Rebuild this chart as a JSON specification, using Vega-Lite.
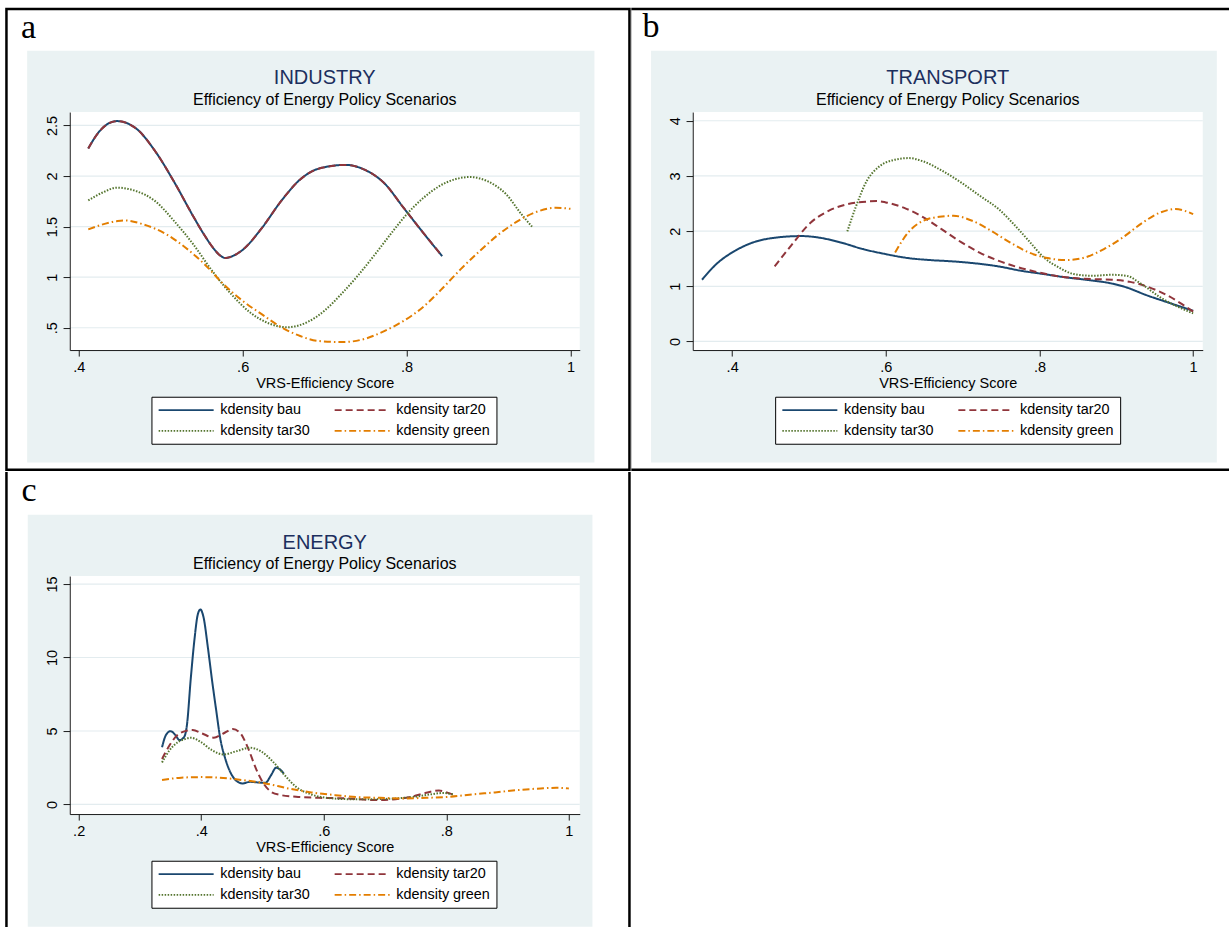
{
  "$schema": "https://vega.github.io/schema/vega-lite/v6.json",
  "background": "white",
  "padding": {"left": 4.75, "top": 7.05, "right": 0, "bottom": 0},
  "columns": 2,
  "spacing": 0,
  "align": "each",
  "bounds": "full",
  "datasets": {
    "industry": [
      {"series":"kdensity bau","x":0.4116,"y":2.273},{"series":"kdensity bau","x":0.425,"y":2.44},{"series":"kdensity bau","x":0.4466,"y":2.543},{"series":"kdensity bau","x":0.47,"y":2.47},{"series":"kdensity bau","x":0.4932,"y":2.246},{"series":"kdensity bau","x":0.5165,"y":1.94},{"series":"kdensity bau","x":0.5398,"y":1.6},{"series":"kdensity bau","x":0.553,"y":1.42},{"series":"kdensity bau","x":0.563,"y":1.3},{"series":"kdensity bau","x":0.571,"y":1.225},{"series":"kdensity bau","x":0.579,"y":1.19},{"series":"kdensity bau","x":0.588,"y":1.21},{"series":"kdensity bau","x":0.6,"y":1.27},{"series":"kdensity bau","x":0.6236,"y":1.488},{"series":"kdensity bau","x":0.6469,"y":1.752},{"series":"kdensity bau","x":0.6702,"y":1.966},{"series":"kdensity bau","x":0.6935,"y":2.075},{"series":"kdensity bau","x":0.726,"y":2.11},{"series":"kdensity bau","x":0.7494,"y":2.06},{"series":"kdensity bau","x":0.7727,"y":1.93},{"series":"kdensity bau","x":0.796,"y":1.69},{"series":"kdensity bau","x":0.8192,"y":1.45},{"series":"kdensity bau","x":0.8435,"y":1.208},
      {"series":"kdensity tar20","x":0.4116,"y":2.273},{"series":"kdensity tar20","x":0.425,"y":2.44},{"series":"kdensity tar20","x":0.4466,"y":2.543},{"series":"kdensity tar20","x":0.47,"y":2.47},{"series":"kdensity tar20","x":0.4932,"y":2.246},{"series":"kdensity tar20","x":0.5165,"y":1.94},{"series":"kdensity tar20","x":0.5398,"y":1.6},{"series":"kdensity tar20","x":0.553,"y":1.42},{"series":"kdensity tar20","x":0.563,"y":1.3},{"series":"kdensity tar20","x":0.571,"y":1.225},{"series":"kdensity tar20","x":0.579,"y":1.19},{"series":"kdensity tar20","x":0.588,"y":1.21},{"series":"kdensity tar20","x":0.6,"y":1.27},{"series":"kdensity tar20","x":0.6236,"y":1.488},{"series":"kdensity tar20","x":0.6469,"y":1.752},{"series":"kdensity tar20","x":0.6702,"y":1.966},{"series":"kdensity tar20","x":0.6935,"y":2.075},{"series":"kdensity tar20","x":0.726,"y":2.11},{"series":"kdensity tar20","x":0.7494,"y":2.06},{"series":"kdensity tar20","x":0.7727,"y":1.93},{"series":"kdensity tar20","x":0.796,"y":1.69},{"series":"kdensity tar20","x":0.8192,"y":1.45},{"series":"kdensity tar20","x":0.8435,"y":1.208},
      {"series":"kdensity tar30","x":0.4116,"y":1.759},{"series":"kdensity tar30","x":0.43,"y":1.84},{"series":"kdensity tar30","x":0.4466,"y":1.885},{"series":"kdensity tar30","x":0.47,"y":1.851},{"series":"kdensity tar30","x":0.4932,"y":1.752},{"series":"kdensity tar30","x":0.5165,"y":1.554},{"series":"kdensity tar30","x":0.5398,"y":1.324},{"series":"kdensity tar30","x":0.563,"y":1.06},{"series":"kdensity tar30","x":0.5863,"y":0.83},{"series":"kdensity tar30","x":0.6096,"y":0.648},{"series":"kdensity tar30","x":0.6329,"y":0.54},{"series":"kdensity tar30","x":0.654,"y":0.505},{"series":"kdensity tar30","x":0.68,"y":0.56},{"series":"kdensity tar30","x":0.7,"y":0.67},{"series":"kdensity tar30","x":0.72,"y":0.83},{"series":"kdensity tar30","x":0.74,"y":1.01},{"series":"kdensity tar30","x":0.76,"y":1.21},{"series":"kdensity tar30","x":0.78,"y":1.42},{"series":"kdensity tar30","x":0.8,"y":1.62},{"series":"kdensity tar30","x":0.82,"y":1.78},{"series":"kdensity tar30","x":0.84,"y":1.9},{"series":"kdensity tar30","x":0.86,"y":1.97},{"series":"kdensity tar30","x":0.877,"y":1.99},{"series":"kdensity tar30","x":0.8984,"y":1.95},{"series":"kdensity tar30","x":0.9217,"y":1.818},{"series":"kdensity tar30","x":0.9404,"y":1.62},{"series":"kdensity tar30","x":0.9543,"y":1.488},
      {"series":"kdensity green","x":0.4116,"y":1.472},{"series":"kdensity green","x":0.4466,"y":1.554},{"series":"kdensity green","x":0.4559,"y":1.561},{"series":"kdensity green","x":0.4792,"y":1.521},{"series":"kdensity green","x":0.5071,"y":1.423},{"series":"kdensity green","x":0.5304,"y":1.291},{"series":"kdensity green","x":0.5537,"y":1.126},{"series":"kdensity green","x":0.577,"y":0.928},{"series":"kdensity green","x":0.6003,"y":0.764},{"series":"kdensity green","x":0.6236,"y":0.632},{"series":"kdensity green","x":0.6469,"y":0.507},{"series":"kdensity green","x":0.6702,"y":0.418},{"series":"kdensity green","x":0.6935,"y":0.368},{"series":"kdensity green","x":0.7214,"y":0.358},{"series":"kdensity green","x":0.7494,"y":0.391},{"series":"kdensity green","x":0.7727,"y":0.467},{"series":"kdensity green","x":0.796,"y":0.566},{"series":"kdensity green","x":0.8192,"y":0.698},{"series":"kdensity green","x":0.8425,"y":0.879},{"series":"kdensity green","x":0.8658,"y":1.077},{"series":"kdensity green","x":0.8891,"y":1.258},{"series":"kdensity green","x":0.9124,"y":1.423},{"series":"kdensity green","x":0.9357,"y":1.554},{"series":"kdensity green","x":0.959,"y":1.647},{"series":"kdensity green","x":0.9823,"y":1.686},{"series":"kdensity green","x":1.0,"y":1.676}
    ],
    "transport": [
      {"series":"kdensity bau","x":0.3608,"y":1.118},{"series":"kdensity bau","x":0.3794,"y":1.402},{"series":"kdensity bau","x":0.4039,"y":1.644},{"series":"kdensity bau","x":0.4284,"y":1.8},{"series":"kdensity bau","x":0.4529,"y":1.875},{"series":"kdensity bau","x":0.49,"y":1.91},{"series":"kdensity bau","x":0.5117,"y":1.885},{"series":"kdensity bau","x":0.541,"y":1.795},{"series":"kdensity bau","x":0.5704,"y":1.674},{"series":"kdensity bau","x":0.5998,"y":1.583},{"series":"kdensity bau","x":0.6292,"y":1.511},{"series":"kdensity bau","x":0.6586,"y":1.474},{"series":"kdensity bau","x":0.688,"y":1.45},{"series":"kdensity bau","x":0.7174,"y":1.414},{"series":"kdensity bau","x":0.7468,"y":1.36},{"series":"kdensity bau","x":0.7762,"y":1.281},{"series":"kdensity bau","x":0.8056,"y":1.221},{"series":"kdensity bau","x":0.8349,"y":1.16},{"series":"kdensity bau","x":0.8643,"y":1.112},{"series":"kdensity bau","x":0.8937,"y":1.051},{"series":"kdensity bau","x":0.9133,"y":0.979},{"series":"kdensity bau","x":0.9378,"y":0.846},{"series":"kdensity bau","x":0.9672,"y":0.707},{"series":"kdensity bau","x":1.0,"y":0.556},
      {"series":"kdensity tar20","x":0.4553,"y":1.36},{"series":"kdensity tar20","x":0.478,"y":1.76},{"series":"kdensity tar20","x":0.502,"y":2.15},{"series":"kdensity tar20","x":0.526,"y":2.37},{"series":"kdensity tar20","x":0.551,"y":2.49},{"series":"kdensity tar20","x":0.575,"y":2.535},{"series":"kdensity tar20","x":0.588,"y":2.545},{"series":"kdensity tar20","x":0.6,"y":2.52},{"series":"kdensity tar20","x":0.624,"y":2.42},{"series":"kdensity tar20","x":0.649,"y":2.25},{"series":"kdensity tar20","x":0.673,"y":2.03},{"series":"kdensity tar20","x":0.698,"y":1.8},{"series":"kdensity tar20","x":0.722,"y":1.61},{"series":"kdensity tar20","x":0.747,"y":1.46},{"series":"kdensity tar20","x":0.771,"y":1.35},{"series":"kdensity tar20","x":0.796,"y":1.26},{"series":"kdensity tar20","x":0.82,"y":1.19},{"series":"kdensity tar20","x":0.845,"y":1.15},{"series":"kdensity tar20","x":0.87,"y":1.13},{"series":"kdensity tar20","x":0.894,"y":1.12},{"series":"kdensity tar20","x":0.918,"y":1.08},{"series":"kdensity tar20","x":0.943,"y":0.98},{"series":"kdensity tar20","x":0.967,"y":0.83},{"series":"kdensity tar20","x":0.985,"y":0.68},{"series":"kdensity tar20","x":1.0,"y":0.54},
      {"series":"kdensity tar30","x":0.5499,"y":1.994},{"series":"kdensity tar30","x":0.5607,"y":2.429},{"series":"kdensity tar30","x":0.5753,"y":2.912},{"series":"kdensity tar30","x":0.59,"y":3.154},{"series":"kdensity tar30","x":0.6096,"y":3.287},{"series":"kdensity tar30","x":0.63,"y":3.323},{"series":"kdensity tar30","x":0.6488,"y":3.263},{"series":"kdensity tar30","x":0.6733,"y":3.094},{"series":"kdensity tar30","x":0.6978,"y":2.882},{"series":"kdensity tar30","x":0.7223,"y":2.64},{"series":"kdensity tar30","x":0.7468,"y":2.399},{"series":"kdensity tar30","x":0.7664,"y":2.127},{"series":"kdensity tar30","x":0.786,"y":1.825},{"series":"kdensity tar30","x":0.8056,"y":1.523},{"series":"kdensity tar30","x":0.8252,"y":1.341},{"series":"kdensity tar30","x":0.8447,"y":1.221},{"series":"kdensity tar30","x":0.8692,"y":1.19},{"series":"kdensity tar30","x":0.8937,"y":1.208},{"series":"kdensity tar30","x":0.9133,"y":1.19},{"series":"kdensity tar30","x":0.9329,"y":1.039},{"series":"kdensity tar30","x":0.9574,"y":0.798},{"series":"kdensity tar30","x":1.0,"y":0.508},
      {"series":"kdensity green","x":0.6121,"y":1.613},{"series":"kdensity green","x":0.6292,"y":1.976},{"series":"kdensity green","x":0.6488,"y":2.187},{"series":"kdensity green","x":0.6733,"y":2.266},{"series":"kdensity green","x":0.688,"y":2.278},{"series":"kdensity green","x":0.7125,"y":2.187},{"series":"kdensity green","x":0.737,"y":2.006},{"series":"kdensity green","x":0.7615,"y":1.795},{"series":"kdensity green","x":0.786,"y":1.613},{"series":"kdensity green","x":0.8105,"y":1.511},{"series":"kdensity green","x":0.835,"y":1.474},{"series":"kdensity green","x":0.8594,"y":1.523},{"series":"kdensity green","x":0.8839,"y":1.674},{"series":"kdensity green","x":0.9084,"y":1.885},{"series":"kdensity green","x":0.9329,"y":2.139},{"series":"kdensity green","x":0.9574,"y":2.338},{"series":"kdensity green","x":0.977,"y":2.399},{"series":"kdensity green","x":1.0,"y":2.308}
    ],
    "energy": [
      {"series":"kdensity bau","x":0.3361,"y":3.9},{"series":"kdensity bau","x":0.3424,"y":4.72},{"series":"kdensity bau","x":0.3499,"y":4.99},{"series":"kdensity bau","x":0.358,"y":4.72},{"series":"kdensity bau","x":0.3645,"y":4.38},{"series":"kdensity bau","x":0.3724,"y":4.61},{"series":"kdensity bau","x":0.3767,"y":5.4},{"series":"kdensity bau","x":0.383,"y":8.58},{"series":"kdensity bau","x":0.3892,"y":11.3},{"series":"kdensity bau","x":0.3942,"y":12.89},{"series":"kdensity bau","x":0.3986,"y":13.27},{"series":"kdensity bau","x":0.4036,"y":12.78},{"series":"kdensity bau","x":0.4111,"y":10.62},{"series":"kdensity bau","x":0.4173,"y":8.58},{"series":"kdensity bau","x":0.4248,"y":6.31},{"series":"kdensity bau","x":0.4311,"y":4.49},{"series":"kdensity bau","x":0.4392,"y":3.13},{"series":"kdensity bau","x":0.4486,"y":2.11},{"series":"kdensity bau","x":0.4579,"y":1.59},{"series":"kdensity bau","x":0.4673,"y":1.43},{"series":"kdensity bau","x":0.4798,"y":1.54},{"series":"kdensity bau","x":0.4923,"y":1.5},{"series":"kdensity bau","x":0.5048,"y":1.47},{"series":"kdensity bau","x":0.5141,"y":2.0},{"series":"kdensity bau","x":0.5223,"y":2.5},{"series":"kdensity bau","x":0.5297,"y":2.34},{"series":"kdensity bau","x":0.5347,"y":2.11},
      {"series":"kdensity tar20","x":0.3361,"y":3.09},{"series":"kdensity tar20","x":0.3486,"y":4.04},{"series":"kdensity tar20","x":0.3611,"y":4.72},{"series":"kdensity tar20","x":0.3736,"y":4.99},{"series":"kdensity tar20","x":0.3861,"y":5.06},{"series":"kdensity tar20","x":0.4017,"y":4.83},{"series":"kdensity tar20","x":0.4205,"y":4.54},{"series":"kdensity tar20","x":0.4361,"y":4.83},{"series":"kdensity tar20","x":0.4517,"y":5.13},{"series":"kdensity tar20","x":0.4642,"y":4.83},{"series":"kdensity tar20","x":0.4767,"y":3.81},{"series":"kdensity tar20","x":0.4892,"y":2.45},{"series":"kdensity tar20","x":0.5017,"y":1.43},{"series":"kdensity tar20","x":0.5141,"y":0.86},{"series":"kdensity tar20","x":0.5297,"y":0.64},{"series":"kdensity tar20","x":0.5547,"y":0.52},{"series":"kdensity tar20","x":0.5922,"y":0.45},{"series":"kdensity tar20","x":0.6359,"y":0.41},{"series":"kdensity tar20","x":0.6796,"y":0.3},{"series":"kdensity tar20","x":0.7109,"y":0.34},{"series":"kdensity tar20","x":0.7421,"y":0.52},{"series":"kdensity tar20","x":0.7671,"y":0.79},{"series":"kdensity tar20","x":0.788,"y":0.95},{"series":"kdensity tar20","x":0.7983,"y":0.85},{"series":"kdensity tar20","x":0.8108,"y":0.68},
      {"series":"kdensity tar30","x":0.3361,"y":2.86},{"series":"kdensity tar30","x":0.3486,"y":3.7},{"series":"kdensity tar30","x":0.3611,"y":4.22},{"series":"kdensity tar30","x":0.3736,"y":4.45},{"series":"kdensity tar30","x":0.383,"y":4.54},{"series":"kdensity tar30","x":0.3986,"y":4.27},{"series":"kdensity tar30","x":0.4173,"y":3.7},{"series":"kdensity tar30","x":0.4361,"y":3.4},{"series":"kdensity tar30","x":0.4579,"y":3.63},{"series":"kdensity tar30","x":0.4798,"y":3.86},{"series":"kdensity tar30","x":0.4985,"y":3.59},{"series":"kdensity tar30","x":0.5173,"y":2.9},{"series":"kdensity tar30","x":0.536,"y":2.0},{"series":"kdensity tar30","x":0.5547,"y":1.2},{"series":"kdensity tar30","x":0.5797,"y":0.68},{"series":"kdensity tar30","x":0.6047,"y":0.45},{"series":"kdensity tar30","x":0.6422,"y":0.36},{"series":"kdensity tar30","x":0.6796,"y":0.36},{"series":"kdensity tar30","x":0.7171,"y":0.41},{"series":"kdensity tar30","x":0.7483,"y":0.52},{"series":"kdensity tar30","x":0.7733,"y":0.68},{"series":"kdensity tar30","x":0.795,"y":0.78},{"series":"kdensity tar30","x":0.8108,"y":0.68},
      {"series":"kdensity green","x":0.3361,"y":1.66},{"series":"kdensity green","x":0.3674,"y":1.82},{"series":"kdensity green","x":0.3986,"y":1.86},{"series":"kdensity green","x":0.4298,"y":1.82},{"series":"kdensity green","x":0.4673,"y":1.66},{"series":"kdensity green","x":0.5048,"y":1.43},{"series":"kdensity green","x":0.5422,"y":1.09},{"series":"kdensity green","x":0.5797,"y":0.82},{"series":"kdensity green","x":0.6172,"y":0.64},{"series":"kdensity green","x":0.6547,"y":0.5},{"series":"kdensity green","x":0.6921,"y":0.45},{"series":"kdensity green","x":0.7296,"y":0.41},{"series":"kdensity green","x":0.7671,"y":0.45},{"series":"kdensity green","x":0.8045,"y":0.52},{"series":"kdensity green","x":0.842,"y":0.68},{"series":"kdensity green","x":0.8795,"y":0.82},{"series":"kdensity green","x":0.917,"y":0.98},{"series":"kdensity green","x":0.9544,"y":1.09},{"series":"kdensity green","x":0.9794,"y":1.13},{"series":"kdensity green","x":1.0,"y":1.09}
    ]
  },
  "concat": [
    {
      "width": 510, "height": 238,
      "title": {"text": "INDUSTRY", "subtitle": "Efficiency of Energy Policy Scenarios"},
      "layer": [
        {"data": {"values": [{}]}, "mark": {"type": "rect", "fill": "#000000"},
         "encoding": {"x": {"datum": 0.310232, "type": "quantitative", "scale": {"domain": [0.389, 1.01133], "nice": false, "zero": false}, "title": "VRS-Efficiency Score"}, "x2": {"datum": 1.073503},
                      "y": {"datum": 3.663148, "type": "quantitative", "scale": {"domain": [0.27956, 2.6325], "nice": false, "zero": false}, "title": null}, "y2": {"datum": -0.91619}}},
        {"data": {"values": [{}]}, "mark": {"type": "rect", "fill": "#ffffff"},
         "encoding": {"x": {"datum": 0.313283, "type": "quantitative", "scale": {"domain": [0.389, 1.01133], "nice": false, "zero": false}, "title": "VRS-Efficiency Score"}, "x2": {"datum": 1.070452},
                      "y": {"datum": 3.638432, "type": "quantitative", "scale": {"domain": [0.27956, 2.6325], "nice": false, "zero": false}, "title": null}, "y2": {"datum": -0.891474}}},
        {"data": {"values": [{}]}, "mark": {"type": "rect", "fill": "#EAF2F3"},
         "encoding": {"x": {"datum": 0.337017, "type": "quantitative", "scale": {"domain": [0.389, 1.01133], "nice": false, "zero": false}, "title": "VRS-Efficiency Score"}, "x2": {"datum": 1.029268},
                      "y": {"datum": 3.238531, "type": "quantitative", "scale": {"domain": [0.27956, 2.6325], "nice": false, "zero": false}, "title": null}, "y2": {"datum": -0.831662}}},
        {"data": {"values": [{}]}, "mark": {"type": "rect", "fill": "#ffffff"},
         "encoding": {"x": {"datum": 0.389, "type": "quantitative", "scale": {"domain": [0.389, 1.01133], "nice": false, "zero": false}, "title": "VRS-Efficiency Score"}, "x2": {"datum": 1.01133},
                      "y": {"datum": 2.6325, "type": "quantitative", "scale": {"domain": [0.27956, 2.6325], "nice": false, "zero": false}, "title": null}, "y2": {"datum": 0.27956}}},
        {"data": {"values": [{"g": 0.5}, {"g": 1}, {"g": 1.5}, {"g": 2}, {"g": 2.5}]}, "mark": {"type": "rule", "stroke": "#E3ECEF", "strokeWidth": 1.2},
         "encoding": {"y": {"field": "g", "type": "quantitative", "scale": {"domain": [0.27956, 2.6325], "nice": false, "zero": false}, "title": null}}},
        {"data": {"values": [{}]}, "mark": {"type": "text", "text": "a", "font": "Liberation Serif", "fontSize": 34, "align": "left", "baseline": "alphabetic", "color": "#000000"},
         "encoding": {"x": {"datum": 0.329452, "type": "quantitative", "scale": {"domain": [0.389, 1.01133], "nice": false, "zero": false}, "title": "VRS-Efficiency Score"},
                      "y": {"datum": 3.364095, "type": "quantitative", "scale": {"domain": [0.27956, 2.6325], "nice": false, "zero": false}, "title": null}}},
        {"data": {"name": "industry"}, "mark": {"type": "line", "interpolate": "monotone", "strokeWidth": 2},
         "encoding": {
           "x": {"field": "x", "type": "quantitative", "scale": {"domain": [0.389, 1.01133], "nice": false, "zero": false}, "title": "VRS-Efficiency Score", "axis": {"values": [0.4, 0.6, 0.8, 1], "zindex": 1}},
           "y": {"field": "y", "type": "quantitative", "scale": {"domain": [0.27956, 2.6325], "nice": false, "zero": false}, "title": null, "axis": {"values": [0.5, 1, 1.5, 2, 2.5], "zindex": 1}},
           "color": {"field": "series", "type": "nominal", "scale": {"domain": ["kdensity bau", "kdensity tar20", "kdensity tar30", "kdensity green"], "range": ["#1A476F", "#90353B", "#55752F", "#E37E00"]},
                     "legend": {"orient": "none", "legendX": 81.7, "legendY": 284.7, "direction": "horizontal", "columns": 2, "title": null}},
           "strokeDash": {"field": "series", "type": "nominal", "scale": {"domain": ["kdensity bau", "kdensity tar20", "kdensity tar30", "kdensity green"], "range": [[1, 0], [7, 4], [1.5, 1.5], [7, 3, 1.5, 3]]},
                     "legend": {"orient": "none", "legendX": 81.7, "legendY": 284.7, "direction": "horizontal", "columns": 2, "title": null}}
         }}
      ]
    },
    {
      "width": 510, "height": 238,
      "title": {"text": "TRANSPORT", "subtitle": "Efficiency of Energy Policy Scenarios"},
      "layer": [
        {"data": {"values": [{}]}, "mark": {"type": "rect", "fill": "#000000"},
         "encoding": {"x": {"datum": 0.268741, "type": "quantitative", "scale": {"domain": [0.34872, 1.0125], "nice": false, "zero": false}, "title": "VRS-Efficiency Score"}, "x2": {"datum": 1.046727},
                      "y": {"datum": 6.047143, "type": "quantitative", "scale": {"domain": [-0.1558, 4.1577], "nice": false, "zero": false}, "title": null}, "y2": {"datum": -2.347964}}},
        {"data": {"values": [{}]}, "mark": {"type": "rect", "fill": "#ffffff"},
         "encoding": {"x": {"datum": 0.268741, "type": "quantitative", "scale": {"domain": [0.34872, 1.0125], "nice": false, "zero": false}, "title": "VRS-Efficiency Score"}, "x2": {"datum": 1.046727},
                      "y": {"datum": 6.001832, "type": "quantitative", "scale": {"domain": [-0.1558, 4.1577], "nice": false, "zero": false}, "title": null}, "y2": {"datum": -2.302653}}},
        {"data": {"values": [{}]}, "mark": {"type": "rect", "fill": "#EAF2F3"},
         "encoding": {"x": {"datum": 0.294446, "type": "quantitative", "scale": {"domain": [0.34872, 1.0125], "nice": false, "zero": false}, "title": "VRS-Efficiency Score"}, "x2": {"datum": 1.030849},
                      "y": {"datum": 5.268665, "type": "quantitative", "scale": {"domain": [-0.1558, 4.1577], "nice": false, "zero": false}, "title": null}, "y2": {"datum": -2.193002}}},
        {"data": {"values": [{}]}, "mark": {"type": "rect", "fill": "#ffffff"},
         "encoding": {"x": {"datum": 0.34872, "type": "quantitative", "scale": {"domain": [0.34872, 1.0125], "nice": false, "zero": false}, "title": "VRS-Efficiency Score"}, "x2": {"datum": 1.0125},
                      "y": {"datum": 4.1577, "type": "quantitative", "scale": {"domain": [-0.1558, 4.1577], "nice": false, "zero": false}, "title": null}, "y2": {"datum": -0.1558}}},
        {"data": {"values": [{"g": 0}, {"g": 1}, {"g": 2}, {"g": 3}, {"g": 4}]}, "mark": {"type": "rule", "stroke": "#E3ECEF", "strokeWidth": 1.2},
         "encoding": {"y": {"field": "g", "type": "quantitative", "scale": {"domain": [-0.1558, 4.1577], "nice": false, "zero": false}, "title": null}}},
        {"data": {"values": [{}]}, "mark": {"type": "text", "text": "b", "font": "Liberation Serif", "fontSize": 34, "align": "left", "baseline": "alphabetic", "color": "#000000"},
         "encoding": {"x": {"datum": 0.283383, "type": "quantitative", "scale": {"domain": [0.34872, 1.0125], "nice": false, "zero": false}, "title": "VRS-Efficiency Score"},
                      "y": {"datum": 5.509762, "type": "quantitative", "scale": {"domain": [-0.1558, 4.1577], "nice": false, "zero": false}, "title": null}}},
        {"data": {"name": "transport"}, "mark": {"type": "line", "interpolate": "monotone", "strokeWidth": 2},
         "encoding": {
           "x": {"field": "x", "type": "quantitative", "scale": {"domain": [0.34872, 1.0125], "nice": false, "zero": false}, "title": "VRS-Efficiency Score", "axis": {"values": [0.4, 0.6, 0.8, 1], "zindex": 1}},
           "y": {"field": "y", "type": "quantitative", "scale": {"domain": [-0.1558, 4.1577], "nice": false, "zero": false}, "title": null, "axis": {"values": [0, 1, 2, 3, 4], "zindex": 1}},
           "color": {"field": "series", "type": "nominal", "scale": {"domain": ["kdensity bau", "kdensity tar20", "kdensity tar30", "kdensity green"], "range": ["#1A476F", "#90353B", "#55752F", "#E37E00"]},
                     "legend": {"orient": "none", "legendX": 82.4, "legendY": 284.7, "direction": "horizontal", "columns": 2, "title": null}},
           "strokeDash": {"field": "series", "type": "nominal", "scale": {"domain": ["kdensity bau", "kdensity tar20", "kdensity tar30", "kdensity green"], "range": [[1, 0], [7, 4], [1.5, 1.5], [7, 3, 1.5, 3]]},
                     "legend": {"orient": "none", "legendX": 82.4, "legendY": 284.7, "direction": "horizontal", "columns": 2, "title": null}}
         }}
      ]
    },
    {
      "width": 510, "height": 238,
      "title": {"text": "ENERGY", "subtitle": "Efficiency of Energy Policy Scenarios"},
      "layer": [
        {"data": {"values": [{}]}, "mark": {"type": "rect", "fill": "#000000"},
         "encoding": {"x": {"datum": 0.080135, "type": "quantitative", "scale": {"domain": [0.18548, 1.01779], "nice": false, "zero": false}, "title": "VRS-Efficiency Score"}, "x2": {"datum": 1.100943},
                      "y": {"datum": 22.626104, "type": "quantitative", "scale": {"domain": [-0.6535, 15.5445], "nice": false, "zero": false}, "title": null}, "y2": {"datum": -8.392068}}},
        {"data": {"values": [{}]}, "mark": {"type": "rect", "fill": "#ffffff"},
         "encoding": {"x": {"datum": 0.084215, "type": "quantitative", "scale": {"domain": [0.18548, 1.01779], "nice": false, "zero": false}, "title": "VRS-Efficiency Score"}, "x2": {"datum": 1.096863},
                      "y": {"datum": 22.626104, "type": "quantitative", "scale": {"domain": [-0.6535, 15.5445], "nice": false, "zero": false}, "title": null}, "y2": {"datum": -8.392068}}},
        {"data": {"values": [{}]}, "mark": {"type": "rect", "fill": "#EAF2F3"},
         "encoding": {"x": {"datum": 0.116937, "type": "quantitative", "scale": {"domain": [0.18548, 1.01779], "nice": false, "zero": false}, "title": "VRS-Efficiency Score"}, "x2": {"datum": 1.038519},
                      "y": {"datum": 19.716555, "type": "quantitative", "scale": {"domain": [-0.6535, 15.5445], "nice": false, "zero": false}, "title": null}, "y2": {"datum": -8.324008}}},
        {"data": {"values": [{}]}, "mark": {"type": "rect", "fill": "#ffffff"},
         "encoding": {"x": {"datum": 0.18548, "type": "quantitative", "scale": {"domain": [0.18548, 1.01779], "nice": false, "zero": false}, "title": "VRS-Efficiency Score"}, "x2": {"datum": 1.01779},
                      "y": {"datum": 15.5445, "type": "quantitative", "scale": {"domain": [-0.6535, 15.5445], "nice": false, "zero": false}, "title": null}, "y2": {"datum": -0.6535}}},
        {"data": {"values": [{"g": 0}, {"g": 5}, {"g": 10}, {"g": 15}]}, "mark": {"type": "rule", "stroke": "#E3ECEF", "strokeWidth": 1.2},
         "encoding": {"y": {"field": "g", "type": "quantitative", "scale": {"domain": [-0.6535, 15.5445], "nice": false, "zero": false}, "title": null}}},
        {"data": {"values": [{}]}, "mark": {"type": "text", "text": "c", "font": "Liberation Serif", "fontSize": 34, "align": "left", "baseline": "alphabetic", "color": "#000000"},
         "encoding": {"x": {"datum": 0.106655, "type": "quantitative", "scale": {"domain": [0.18548, 1.01779], "nice": false, "zero": false}, "title": "VRS-Efficiency Score"},
                      "y": {"datum": 20.648971, "type": "quantitative", "scale": {"domain": [-0.6535, 15.5445], "nice": false, "zero": false}, "title": null}}},
        {"data": {"name": "energy"}, "mark": {"type": "line", "interpolate": "monotone", "strokeWidth": 2},
         "encoding": {
           "x": {"field": "x", "type": "quantitative", "scale": {"domain": [0.18548, 1.01779], "nice": false, "zero": false}, "title": "VRS-Efficiency Score", "axis": {"values": [0.2, 0.4, 0.6, 0.8, 1], "zindex": 1}},
           "y": {"field": "y", "type": "quantitative", "scale": {"domain": [-0.6535, 15.5445], "nice": false, "zero": false}, "title": null, "axis": {"values": [0, 5, 10, 15], "zindex": 1}},
           "color": {"field": "series", "type": "nominal", "scale": {"domain": ["kdensity bau", "kdensity tar20", "kdensity tar30", "kdensity green"], "range": ["#1A476F", "#90353B", "#55752F", "#E37E00"]},
                     "legend": {"orient": "none", "legendX": 81.7, "legendY": 284.7, "direction": "horizontal", "columns": 2, "title": null}},
           "strokeDash": {"field": "series", "type": "nominal", "scale": {"domain": ["kdensity bau", "kdensity tar20", "kdensity tar30", "kdensity green"], "range": [[1, 0], [7, 4], [1.5, 1.5], [7, 3, 1.5, 3]]},
                     "legend": {"orient": "none", "legendX": 81.7, "legendY": 284.7, "direction": "horizontal", "columns": 2, "title": null}}
         }}
      ]
    }
  ],
  "resolve": {
    "scale": {"color": "independent", "strokeDash": "independent"},
    "legend": {"color": "independent", "strokeDash": "independent"}
  },
  "config": {
    "view": {"stroke": null},
    "font": "Liberation Sans",
    "axis": {
      "grid": false, "zindex": 1,
      "domainColor": "#1a1a1a", "domainWidth": 1, "tickColor": "#1a1a1a", "tickWidth": 1,
      "labelFont": "Liberation Sans", "labelFontSize": 14.5, "labelColor": "#000000",
      "titleFont": "Liberation Sans", "titleFontSize": 14.5, "titleFontWeight": "normal", "titleColor": "#000000",
      "labelFlush": false, "labelOverlap": false,
      "labelExpr": "datum.value > 0 && datum.value < 1 ? slice(format(datum.value, '~g'), 1) : format(datum.value, '~g')"
    },
    "axisX": {"tickSize": 6, "labelPadding": 4.5, "titlePadding": 2},
    "axisY": {"tickSize": 6.7, "labelPadding": 3.4, "labelAngle": -90, "labelAlign": "center", "labelBaseline": "bottom"},
    "legend": {
      "labelFont": "Liberation Sans", "labelFontSize": 14.4, "labelColor": "#000000",
      "symbolType": "M-5.5,0H5.5", "symbolSize": 100, "symbolStrokeWidth": 1.8, "symbolOffset": 21.5,
      "labelOffset": 27, "columnPadding": 20, "rowPadding": 6, "padding": 6,
      "fillColor": "#ffffff", "strokeColor": "#000000", "zindex": 1, "labelLimit": 300
    },
    "title": {
      "font": "Liberation Sans", "fontSize": 20, "fontWeight": "normal", "color": "#1C2F5E",
      "subtitleFont": "Liberation Sans", "subtitleFontSize": 16, "subtitleColor": "#000000", "subtitleFontWeight": "normal",
      "subtitlePadding": 3.7, "anchor": "middle", "frame": "group", "offset": -100.25, "zindex": 1
    }
  }
}
